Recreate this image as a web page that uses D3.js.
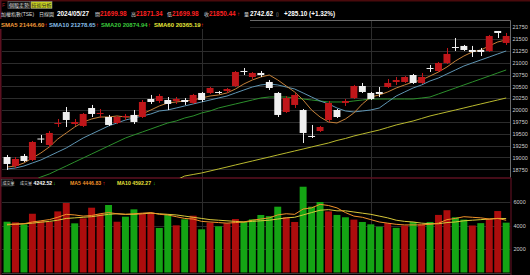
<!DOCTYPE html>
<html><head><meta charset="utf-8">
<script src="https://cdn.jsdelivr.net/npm/d3@7"></script>
<style>
html,body{margin:0;padding:0;background:#000;overflow:hidden}
svg{display:block}
text{font-family:"Liberation Sans",Arial,"Noto Sans CJK TC",sans-serif}
</style></head><body><div id="chart"></div>
<script>
// daily candles, index 0..59 (last = 2024/05/27)
var opens  = [19010,18820,19032,18947,19400,19264,19707,19960,19707,19665,20044,19918,19854,19728,19854,19897,19854,20234,20192,20213,
              20192,20213,20150,20361,20361,20382,20403,20508,20825,20698,20783,20593,20361,19960,20108,20002,19454,19559,19791,20002,
              20150,20255,20508,20361,20382,20487,20593,20593,20740,20572,20888,20825,20994,21331,21353,21268,21268,21247,21669,21416];
var highs  = [19053,19010,19074,19348,19475,19559,19812,20065,19812,19939,20108,20023,19897,19876,19918,20002,20213,20319,20340,20276,
              20276,20255,20340,20382,20487,20403,20466,20825,20888,20804,20825,20635,20382,20297,20361,20023,19686,19665,20192,20023,
              20234,20530,20572,20382,20487,20656,20698,20719,20762,20783,20952,21015,21310,21521,21374,21353,21310,21585,21669,21627];
var lows   = [18736,18778,18905,18926,19306,19222,19643,19643,19665,19643,19854,19833,19665,19707,19791,19707,19833,20129,20150,20002,
              20129,20108,20129,20171,20340,20340,20361,20487,20740,20656,20698,20424,19854,19939,20044,19306,19411,19538,19749,19833,
              20087,20234,20361,20213,20276,20466,20530,20572,20551,20551,20804,20804,20973,21247,21247,21120,21141,21226,21521,21374];
var closes = [18863,18968,18926,19327,19380,19517,19728,19791,19749,19918,19918,19939,19686,19854,19876,19749,20171,20171,20297,20129,
              20234,20171,20319,20213,20466,20361,20445,20804,20804,20783,20740,20466,19897,20255,20319,19517,19433,19643,20150,19854,
              20192,20508,20382,20234,20340,20572,20635,20698,20572,20698,20867,20994,21184,21310,21268,21226,21226,21563,21627,21563];

var sma5  = [18799,18820,18884,18989,19095,19222,19390,19517,19643,19749,19812,19854,19854,19876,19854,19854,19918,20002,20087,20150,
             20171,20192,20213,20255,20297,20319,20361,20445,20551,20635,20698,20740,20635,20508,20382,20213,20002,19854,19749,19728,
             19812,19939,20129,20276,20319,20382,20466,20530,20593,20635,20719,20804,20909,21036,21141,21226,21268,21353,21437,21479];
var sma10 = [18757,18778,18820,18884,18947,19032,19116,19200,19306,19411,19496,19580,19665,19728,19791,19833,19876,19918,19981,20002,
             20044,20087,20129,20171,20213,20255,20297,20361,20424,20487,20530,20551,20530,20487,20445,20361,20276,20192,20129,20044,
             19981,19960,19981,20002,20044,20171,20297,20382,20466,20530,20614,20677,20762,20846,20930,20994,21057,21120,21184,21247];
var sma20 = [null,null,null,18504,18588,18652,18736,18820,18905,18989,19074,19158,19243,19327,19411,19475,19538,19601,19665,19728,
             19770,19833,19876,19939,19981,20044,20087,20129,20171,20213,20255,20276,20276,20276,20255,20234,20213,20192,20171,20171,
             20171,20192,20213,20234,20234,20234,20234,20234,20234,20255,20276,20340,20403,20466,20530,20593,20656,20719,20783,20846];
var sma60 = [null,null,null,null,null,null,null,null,null,null,null,null,null,null,null,null,null,null,null,null,
             18525,18609,18641,18673,18715,18757,18799,18842,18884,18926,18968,19010,19053,19095,19137,19179,19222,19264,19306,19359,
             19401,19453,19496,19538,19580,19633,19686,19728,19770,19823,19876,19918,19960,20002,20044,20087,20129,20171,20213,20255];

var volume = [4323,4270,4100,5000,4380,4320,5200,5915,4185,4610,5515,4980,5745,4320,4750,5375,5035,5090,3790,4980,
              4015,4525,4835,3675,4240,3930,4185,4550,4320,4525,4895,4800,5600,4700,4300,7300,5600,6000,5200,4900,
              4700,4500,4300,4100,3900,4200,3800,4000,4300,4100,4300,4900,5300,4700,4500,4000,4200,4550,5230,4242];
var volRed = [0,1,0,1,1,1,1,1,0,1,1,1,0,1,0,0,1,1,0,0,
              1,0,1,0,1,0,1,1,0,0,0,0,0,1,1,0,0,0,1,0,
              0,1,0,0,0,1,0,1,0,1,0,1,1,0,0,1,0,1,1,0];
var volMa5  = [4050,4100,4150,4300,4400,4500,4700,4950,4900,4800,4850,5000,5100,5000,4950,5000,5050,5100,4950,4900,
               4750,4600,4550,4350,4300,4250,4200,4250,4300,4450,4550,4650,4900,5000,4950,5400,5500,5800,5700,5500,
               5100,4800,4700,4500,4300,4200,4100,4050,4050,4050,4100,4200,4500,4600,4750,4700,4650,4550,4600,4447];
var volMa10 = [4100,4120,4150,4200,4280,4350,4450,4600,4650,4700,4750,4850,4950,5000,4950,4950,5000,5050,5000,4950,
               4900,4800,4700,4600,4500,4450,4400,4350,4300,4350,4400,4450,4550,4650,4700,4900,5100,5300,5350,5250,
               5250,5150,5050,4950,4800,4650,4450,4350,4300,4200,4150,4150,4250,4300,4400,4450,4500,4550,4600,4592];

var priceTicks = [18750,19000,19250,19500,19750,20000,20250,20500,20750,21000,21250,21500,21750];
var volTicks = [2000,4000,6000];
var monthStarts = [23, 43];

var W = 530, H = 275;
var L = 2, R = 510.5, pTop = 20.5, pBot = 178, vTop = 178, vBot = 273.5;
var RED = "#c0161a", WHITE = "#f0f0f0", GRID = "#2c2c2c", MAROON = "#5c1020";

var svg = d3.select("#chart").append("svg").attr("width", W).attr("height", H)
  .style("background", "#000");

var idx = d3.range(closes.length);
var x = d3.scaleBand().domain(idx).range([2.8, 510.4]).paddingInner(0.18).paddingOuter(0.09);
var cx = function (i) { return x(i) + x.bandwidth() / 2; };
var y = d3.scaleLinear().domain([18567, 21890]).range([pBot, pTop]);
var yv = d3.scaleLinear().domain([0, 8000]).range([272.5, 178.5]);

var defs = svg.append("defs");
defs.append("clipPath").attr("id", "pclip").append("rect")
  .attr("x", L).attr("y", pTop).attr("width", R - L).attr("height", pBot - pTop);
defs.append("clipPath").attr("id", "vclip").append("rect")
  .attr("x", L).attr("y", vTop + 1).attr("width", R - L).attr("height", vBot - vTop - 1);

// frame bits
svg.append("rect").attr("x", 0).attr("y", 0).attr("width", W).attr("height", 1.5).attr("fill", "#4a0a0c");
svg.append("rect").attr("x", 0).attr("y", 0).attr("width", 1.5).attr("height", H).attr("fill", MAROON);

// tabs
svg.append("rect").attr("x", 8).attr("y", 1.5).attr("width", 22).attr("height", 7)
  .attr("fill", "#111").attr("stroke", "#777").attr("stroke-width", 0.6);
svg.append("text").attr("x", 19).attr("y", 7.3).attr("text-anchor", "middle")
  .attr("font-size", 5).attr("fill", "#ddd").text("個股走勢");
svg.append("rect").attr("x", 31).attr("y", 1.5).attr("width", 21).attr("height", 7)
  .attr("fill", "#c8d020").attr("stroke", "#888").attr("stroke-width", 0.6);
svg.append("text").attr("x", 41.5).attr("y", 7.3).attr("text-anchor", "middle")
  .attr("font-size", 5).attr("fill", "#222").text("技術分析");
svg.append("text").attr("x", 2).attr("y", 7.3).attr("font-size", 5).attr("fill", "#a02020").text("F");

// header line
var head = [
  [1, "加權指數(TSE)", "#ddd", 5, 400], [39, "日線圖", "#ddd", 5, 400],
  [57, "2024/05/27", "#fff", 6.4, 700],
  [95, "開", "#ddd", 5, 400], [100, "21699.98", "#ff2020", 6.4, 700],
  [131, "高", "#ddd", 5, 400], [136, "21871.34", "#ff2020", 6.4, 700],
  [167, "低", "#ddd", 5, 400], [172, "21699.98", "#ff2020", 6.4, 700],
  [204, "收", "#ddd", 5, 400], [209, "21850.44", "#ff2020", 6.4, 700],
  [237, "↑", "#ff2020", 6, 700],
  [244, "量", "#ddd", 5, 400], [250, "2742.62", "#fff", 6.4, 700],
  [276, "▯", "#bbb", 5, 400], [284, "+285.10 (+1.32%)", "#fff", 6.4, 700]
];
svg.append("g").selectAll("text").data(head).join("text")
  .attr("x", function (d) { return d[0]; }).attr("y", 16.3)
  .attr("font-size", function (d) { return d[3]; })
  .attr("font-weight", function (d) { return d[4]; })
  .attr("fill", function (d) { return d[2]; })
  .text(function (d) { return d[1]; });

// price grid
var grid = svg.append("g");
grid.selectAll("line.h").data(priceTicks).join("line").attr("class", "h")
  .attr("x1", L).attr("x2", R)
  .attr("y1", function (d) { return Math.round(y(d)) + 0.5; })
  .attr("y2", function (d) { return Math.round(y(d)) + 0.5; })
  .attr("stroke", GRID).attr("stroke-width", 1);
grid.selectAll("line.v").data(monthStarts).join("line").attr("class", "v")
  .attr("x1", function (d) { return Math.round(cx(d)) + 0.5; })
  .attr("x2", function (d) { return Math.round(cx(d)) + 0.5; })
  .attr("y1", pTop).attr("y2", vBot)
  .attr("stroke", GRID).attr("stroke-width", 1);
grid.selectAll("line.hv").data(volTicks).join("line").attr("class", "hv")
  .attr("x1", L).attr("x2", R)
  .attr("y1", function (d) { return Math.round(yv(d)) + 0.5; })
  .attr("y2", function (d) { return Math.round(yv(d)) + 0.5; })
  .attr("stroke", GRID).attr("stroke-width", 1);

// panel borders
svg.append("line").attr("x1", 250).attr("x2", R).attr("y1", pTop).attr("y2", pTop)
  .attr("stroke", "#6a6a6a").attr("stroke-width", 1);
svg.append("line").attr("x1", R).attr("x2", R).attr("y1", pTop).attr("y2", pBot)
  .attr("stroke", "#6a6a6a").attr("stroke-width", 1);
svg.append("line").attr("x1", 0).attr("x2", R + 0.5).attr("y1", vTop).attr("y2", vTop)
  .attr("stroke", MAROON).attr("stroke-width", 1.5);
svg.append("line").attr("x1", R + 0.5).attr("x2", R + 0.5).attr("y1", vTop).attr("y2", H)
  .attr("stroke", MAROON).attr("stroke-width", 1.2);
svg.append("line").attr("x1", L).attr("x2", R).attr("y1", vBot).attr("y2", vBot)
  .attr("stroke", "#3a3a3a").attr("stroke-width", 1);

// moving averages (price)
var plot = svg.append("g").attr("clip-path", "url(#pclip)");
function maLine(arr, sc) {
  return d3.line().defined(function (d) { return d != null; })
    .x(function (d, i) { return cx(i); }).y(function (d) { return sc(d); })(arr);
}
[[sma60, "#b9b92e"], [sma20, "#2c8f2c"], [sma10, "#5f95b3"], [sma5, "#c4813a"]].forEach(function (s) {
  plot.append("path").attr("d", maLine(s[0], y)).attr("fill", "none")
    .attr("stroke", s[1]).attr("stroke-width", 1);
});

// candles
var cg = plot.append("g").selectAll("g").data(idx).join("g");
cg.append("line")
  .attr("x1", function (i) { return Math.round(cx(i)) + 0.5; })
  .attr("x2", function (i) { return Math.round(cx(i)) + 0.5; })
  .attr("y1", function (i) { return y(highs[i]); })
  .attr("y2", function (i) { return y(lows[i]); })
  .attr("stroke", function (i) { return closes[i] >= opens[i] ? RED : WHITE; })
  .attr("stroke-width", 1);
cg.append("rect")
  .attr("x", function (i) { return x(i); })
  .attr("width", x.bandwidth())
  .attr("y", function (i) { return y(Math.max(opens[i], closes[i])); })
  .attr("height", function (i) { return Math.max(1, Math.abs(y(opens[i]) - y(closes[i]))); })
  .attr("fill", function (i) { return closes[i] >= opens[i] ? RED : WHITE; });

// legend row
svg.append("rect").attr("x", 0).attr("y", 19).attr("width", 250).attr("height", 10).attr("fill", "#000");
var leg = [
  [1, "SMA5 21446.60", "#f09a3a"], [49, "SMA10 21278.65", "#86bfe8"],
  [101, "SMA20 20874.94", "#3cc83c"], [154, "SMA60 20365.19", "#e8e83a"]
];
var lg = svg.append("g").selectAll("text").data(leg).join("text")
  .attr("x", function (d) { return d[0]; }).attr("y", 26.5)
  .attr("font-size", 6).attr("font-weight", 700)
  .attr("fill", function (d) { return d[2]; });
lg.append("tspan").text(function (d) { return d[1]; });
lg.append("tspan").attr("fill", "#ff2020").text("↑");

// price axis
var pa = svg.append("g").attr("transform", "translate(" + R + ",0)")
  .call(d3.axisRight(y).tickValues(priceTicks).tickSize(0).tickPadding(2)
    .tickFormat(d3.format("d")));
pa.select(".domain").remove();
pa.selectAll("text").attr("font-size", 5.5).attr("fill", "#d0d0d0")
  .attr("font-family", "Liberation Sans, Arial, sans-serif");

// volume bars
var vp = svg.append("g").attr("clip-path", "url(#vclip)");
vp.selectAll("rect").data(idx).join("rect")
  .attr("x", function (i) { return x(i); })
  .attr("width", x.bandwidth())
  .attr("y", function (i) { return yv(volume[i]); })
  .attr("height", function (i) { return yv(0) - yv(volume[i]); })
  .attr("fill", function (i) { return volRed[i] ? "#ad0d0d" : "#14a414"; });
[[volMa10, "#d8c83a"], [volMa5, "#f0922a"]].forEach(function (s) {
  vp.append("path").attr("d", maLine(s[0], yv)).attr("fill", "none")
    .attr("stroke", s[1]).attr("stroke-width", 1);
});

// volume header
svg.append("rect").attr("x", 1.5).attr("y", 179.5).attr("width", 11).attr("height", 6.5)
  .attr("fill", "#111").attr("stroke", "#555").attr("stroke-width", 0.5);
var vh = [
  [2.5, "成交量", "#ddd", 4, 400], [20, "成交量", "#ddd", 4, 400],
  [33.5, "4242.52", "#fff", 5.2, 700], [53, "↓", "#20c020", 5.4, 700],
  [70, "MA5 4446.83", "#f0922a", 5.2, 700], [102.5, "↑", "#ff2020", 5.4, 700],
  [117, "MA10 4592.27", "#e8e03a", 5.2, 700], [153, "↓", "#20c020", 5.4, 700]
];
svg.append("g").selectAll("text").data(vh).join("text")
  .attr("x", function (d) { return d[0]; }).attr("y", 184.8)
  .attr("font-size", function (d) { return d[3]; })
  .attr("font-weight", function (d) { return d[4]; })
  .attr("fill", function (d) { return d[2]; })
  .text(function (d) { return d[1]; });

var va = svg.append("g").attr("transform", "translate(" + (R + 1) + ",0)")
  .call(d3.axisRight(yv).tickValues(volTicks).tickSize(0).tickPadding(2)
    .tickFormat(d3.format("d")));
va.select(".domain").remove();
va.selectAll("text").attr("font-size", 5.5).attr("fill", "#d0d0d0")
  .attr("font-family", "Liberation Sans, Arial, sans-serif");
</script></body></html>
